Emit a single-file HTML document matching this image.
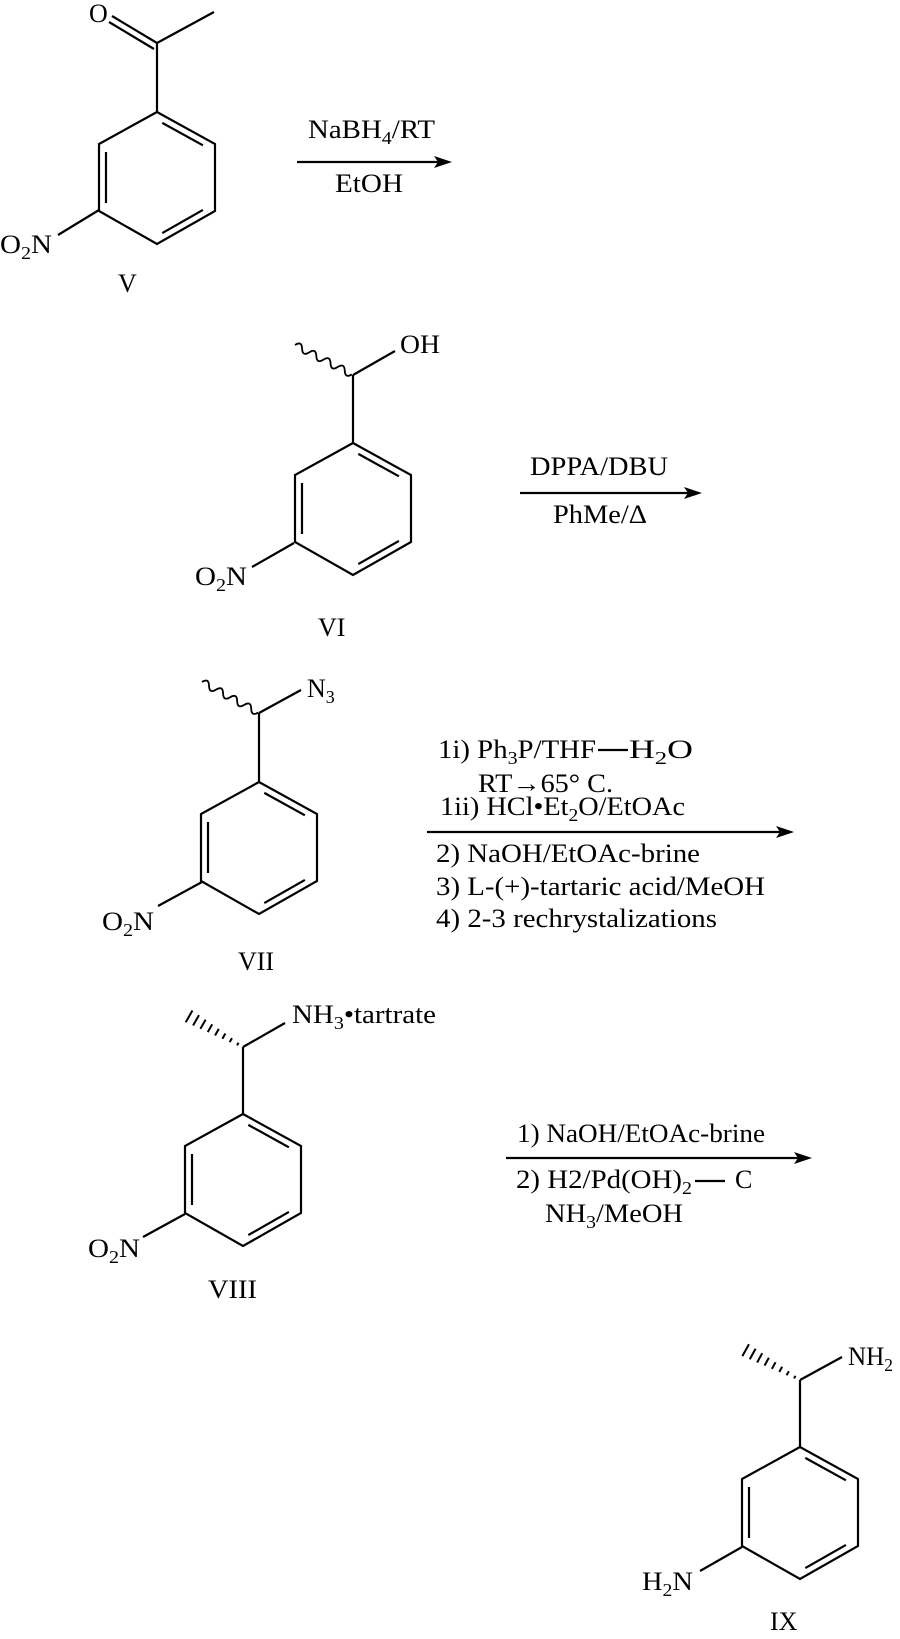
<!DOCTYPE html>
<html><head><meta charset="utf-8"><style>
html,body{margin:0;padding:0;background:#fff}
svg{display:block}
text{font-family:"Liberation Serif",serif;font-size:26px;fill:#000}
.s{font-size:18px}
</style></head><body>
<svg width="900" height="1639" viewBox="0 0 900 1639" xmlns="http://www.w3.org/2000/svg">
<defs>
<g id="ring" fill="none" stroke="#000" stroke-width="2.2">
<polygon points="0,0 -58,32 -58,99 0,132 58,99 58,32"/>
<line x1="-51" y1="40" x2="-51" y2="91"/>
<line x1="5.3" y1="10.9" x2="45.9" y2="33.3"/>
<line x1="45.9" y1="97.9" x2="5.3" y2="121.1"/>
</g>
<path id="wave" d="M0,0 q4,-7 8,0 t8,0 t8,0 t8,0 t8,0 t8,0 t8,0 t8,0" fill="none" stroke="#000" stroke-width="1.8"/>
<g id="hash" stroke="#000" stroke-width="2">
<line x1="6" y1="-1.5" x2="6" y2="1.5"/>
<line x1="14" y1="-2.3" x2="14" y2="2.3"/>
<line x1="22" y1="-3" x2="22" y2="3"/>
<line x1="30" y1="-3.8" x2="30" y2="3.8"/>
<line x1="38" y1="-4.5" x2="38" y2="4.5"/>
<line x1="46" y1="-5.3" x2="46" y2="5.3"/>
<line x1="54" y1="-6" x2="54" y2="6"/>
<line x1="62" y1="-6.8" x2="62" y2="6.8"/>
</g>
</defs>
<g stroke="#000" stroke-width="2.2" fill="none">
<line x1="157" y1="113" x2="157" y2="43"/>
<line x1="157" y1="43" x2="214" y2="12"/>
<line x1="112" y1="16" x2="157" y2="43"/>
<line x1="109" y1="22" x2="154" y2="49"/>
<line x1="99" y1="210" x2="58" y2="235"/>
<line x1="353" y1="443" x2="353" y2="375"/>
<line x1="353" y1="375" x2="395" y2="351"/>
<line x1="294" y1="543" x2="252" y2="567"/>
<line x1="259" y1="782" x2="259" y2="713"/>
<line x1="259" y1="713" x2="301" y2="690"/>
<line x1="202" y1="882" x2="158" y2="906"/>
<line x1="243" y1="1114" x2="243" y2="1047"/>
<line x1="243" y1="1047" x2="285" y2="1023"/>
<line x1="185" y1="1214" x2="143" y2="1237"/>
<line x1="800" y1="1447" x2="800" y2="1380"/>
<line x1="800" y1="1380" x2="842" y2="1357"/>
<line x1="742" y1="1547" x2="700" y2="1571"/>
<line x1="297" y1="162" x2="438" y2="162"/>
<line x1="520" y1="493" x2="688" y2="493"/>
<line x1="427" y1="832" x2="780" y2="832"/>
<line x1="506" y1="1158" x2="798" y2="1158"/>
<line x1="598" y1="750" x2="628" y2="750"/>
<line x1="695" y1="1181" x2="725" y2="1181"/>
</g>
<g fill="#000">
<polygon points="452,162 434,156 438,162 434,168"/>
<polygon points="702,493 684,487 688,493 684,499"/>
<polygon points="794,832 776,826 780,832 776,838"/>
<polygon points="812,1158 794,1152 798,1158 794,1164"/>
</g>
<use href="#ring" transform="translate(157,112)"/>
<use href="#ring" transform="translate(353,443)"/>
<use href="#ring" transform="translate(259,782)"/>
<use href="#ring" transform="translate(243,1114)"/>
<use href="#ring" transform="translate(800,1447)"/>
<use href="#wave" transform="translate(295,345) rotate(27.3)"/>
<use href="#wave" transform="translate(202,682) rotate(28.5)"/>
<use href="#hash" transform="translate(243,1047) rotate(209.6)"/>
<use href="#hash" transform="translate(800,1380) rotate(208.8)"/>

<text x="89" y="22">O</text>
<text x="0" y="253" textLength="52" lengthAdjust="spacingAndGlyphs">O<tspan class="s" dy="6">2</tspan><tspan dy="-6">N</tspan></text>
<text x="118" y="292">V</text>
<text x="308" y="138" textLength="127" lengthAdjust="spacingAndGlyphs">NaBH<tspan class="s" dy="6">4</tspan><tspan dy="-6">/RT</tspan></text>
<text x="335" y="192" textLength="68" lengthAdjust="spacingAndGlyphs">EtOH</text>

<text x="400" y="353" textLength="40" lengthAdjust="spacingAndGlyphs">OH</text>
<text x="195" y="585" textLength="52" lengthAdjust="spacingAndGlyphs">O<tspan class="s" dy="6">2</tspan><tspan dy="-6">N</tspan></text>
<text x="318" y="636">VI</text>
<text x="530" y="475" textLength="138" lengthAdjust="spacingAndGlyphs">DPPA/DBU</text>
<text x="553" y="523" textLength="94" lengthAdjust="spacingAndGlyphs">PhMe/Δ</text>

<text x="307" y="697">N<tspan class="s" dy="6">3</tspan></text>
<text x="102" y="930" textLength="52" lengthAdjust="spacingAndGlyphs">O<tspan class="s" dy="6">2</tspan><tspan dy="-6">N</tspan></text>
<text x="238" y="970">VII</text>
<text x="438" y="758" textLength="158" lengthAdjust="spacingAndGlyphs">1i) Ph<tspan class="s" dy="6">3</tspan><tspan dy="-6">P/THF</tspan></text>
<text x="629" y="758" textLength="64" lengthAdjust="spacingAndGlyphs">H<tspan class="s" dy="6">2</tspan><tspan dy="-6">O</tspan></text>
<text x="478" y="792" textLength="135" lengthAdjust="spacingAndGlyphs">RT→65° C.</text>
<text x="440" y="815" textLength="245" lengthAdjust="spacingAndGlyphs">1ii) HCl•Et<tspan class="s" dy="6">2</tspan><tspan dy="-6">O/EtOAc</tspan></text>
<text x="436" y="862" textLength="264" lengthAdjust="spacingAndGlyphs">2) NaOH/EtOAc-brine</text>
<text x="436" y="895" textLength="329" lengthAdjust="spacingAndGlyphs">3) L-(+)-tartaric acid/MeOH</text>
<text x="436" y="927" textLength="281" lengthAdjust="spacingAndGlyphs">4) 2-3 rechrystalizations</text>

<text x="292" y="1023" textLength="144" lengthAdjust="spacingAndGlyphs">NH<tspan class="s" dy="6">3</tspan><tspan dy="-6">•tartrate</tspan></text>
<text x="88" y="1257" textLength="52" lengthAdjust="spacingAndGlyphs">O<tspan class="s" dy="6">2</tspan><tspan dy="-6">N</tspan></text>
<text x="208" y="1298" textLength="49" lengthAdjust="spacingAndGlyphs">VIII</text>
<text x="517" y="1142" textLength="248" lengthAdjust="spacingAndGlyphs">1) NaOH/EtOAc-brine</text>
<text x="516" y="1188" textLength="176" lengthAdjust="spacingAndGlyphs">2) H2/Pd(OH)<tspan class="s" dy="6">2</tspan></text>
<text x="735" y="1188">C</text>
<text x="545" y="1222" textLength="138" lengthAdjust="spacingAndGlyphs">NH<tspan class="s" dy="6">3</tspan><tspan dy="-6">/MeOH</tspan></text>

<text x="848" y="1365" textLength="45" lengthAdjust="spacingAndGlyphs">NH<tspan class="s" dy="6">2</tspan></text>
<text x="642" y="1590" textLength="51" lengthAdjust="spacingAndGlyphs">H<tspan class="s" dy="6">2</tspan><tspan dy="-6">N</tspan></text>
<text x="770" y="1630">IX</text>
</svg>
</body></html>
